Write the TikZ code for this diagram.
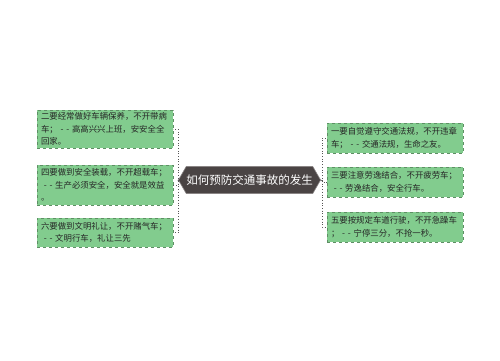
\documentclass[tikz,border=0pt]{standalone}
\usepackage{fontspec}
\setmainfont{Noto Sans CJK SC}
\usetikzlibrary{shapes.symbols}
\definecolor{boxfill}{HTML}{82CC8E}
\definecolor{boxline}{HTML}{5E8F64}
\definecolor{hubfill}{HTML}{4A4444}
\definecolor{hubline}{HTML}{8A8585}
\definecolor{linkcol}{HTML}{555555}
\newcommand{\dd}{\ -\ -\ }
\begin{document}
\begin{tikzpicture}[x=1pt,y=-1pt,
  leaf/.style={draw=boxline, fill=boxfill, dashed, line width=0.6pt,
    text width=128pt, inner xsep=4pt, inner ysep=1pt, align=left,
    minimum width=136pt, font=\fontsize{8.4}{12.5}\selectfont, text=black!85},
  hub/.style={signal, signal to=west and east, draw=hubline, fill=hubfill,
    line width=0.6pt, text=white, font=\fontsize{11.5}{13}\selectfont,
    minimum width=133pt, minimum height=27pt, inner sep=0pt, signal pointer angle=120},
  link/.style={draw=linkcol, line width=0.7pt, dotted},
  stub/.style={draw=linkcol, line width=0.6pt}]
\useasboundingbox (0,0) rectangle (500,360);
\fill[white] (0,0) rectangle (500,360);
\node[hub] (c) at (249.5,180) {如何预防交通事故的发生};
\node[leaf, minimum height=38pt] (l1) at (105,129) {二要经常做好车辆保养，不开带病\\车；\dd 高高兴兴上班，安安全全\\回家。};
\node[leaf, minimum height=40pt] (l2) at (105,185) {四要做到安全装载，不开超载车；\\\dd 生产必须安全，安全就是效益\\。};
\node[leaf, minimum height=29pt] (l3) at (105,232.5) {六要做到文明礼让，不开赌气车；\\\dd 文明行车，礼让三先};
\node[leaf, minimum height=30pt] (r1) at (395,138) {一要自觉遵守交通法规，不开违章\\车；\dd 交通法规，生命之友。};
\node[leaf, minimum height=30pt] (r2) at (395,182) {三要注意劳逸结合，不开疲劳车；\\\dd 劳逸结合，安全行车。};
\node[leaf, minimum height=30pt] (r3) at (395,227) {五要按规定车道行驶，不开急躁车\\；\dd 宁停三分，不抢一秒。};
\coordinate (lj) at (178,181);
\coordinate (rj) at (322,181);
\draw[stub] (c.west) -- (lj);
\draw[stub] (c.east) -- (rj);
\draw[link] (lj) |- (l1.east);
\draw[link] (lj) |- (l2.east);
\draw[link] (lj) |- (l3.east);
\draw[link] (rj) |- (r1.west);
\draw[link] (rj) |- (r2.west);
\draw[link] (rj) |- (r3.west);
\end{tikzpicture}
\end{document}
